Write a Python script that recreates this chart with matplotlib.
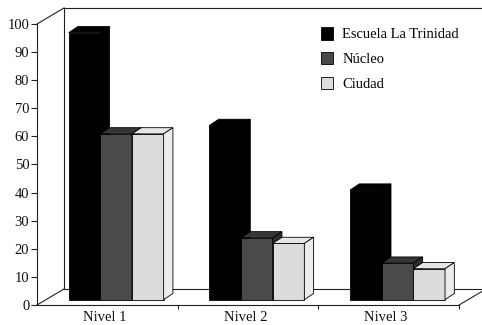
import matplotlib
matplotlib.use("Agg")
import matplotlib.pyplot as plt
from matplotlib.patches import Patch, Polygon

plt.rcParams["font.family"] = ["Liberation Serif", "DejaVu Serif"]

levels = ["Nivel 1", "Nivel 2", "Nivel 3"]
series_names = ["Escuela La Trinidad", "Núcleo", "Ciudad"]
escuela = [95, 62, 39]
nucleo = [59, 22, 13]
ciudad = [59, 20, 11]
y_ticks = list(range(0, 101, 10))

# front / top / side shades for each series
shades = [
    ("#000000", "#000000", "#000000"),
    ("#4a4a4a", "#363636", "#2c2c2c"),
    ("#dcdcdc", "#e6e6e6", "#ececec"),
]

WALL_DX, WALL_DY = 0.192, 5.7   # depth of the floor / back wall
BAR_DX, BAR_DY = 0.066, 2.2     # depth of each bar
BASE = 1.9                       # bars stand a little back on the floor
OFFSET, WIDTH = 0.225, 0.225
LINE = "#222222"

fig = plt.figure(figsize=(4.82, 3.25), dpi=100)
ax = fig.add_axes([37 / 482, 0, 445 / 482, 1])
ax.set_xlim(0, 445 / 140.7)
ax.set_ylim(-7.12, 108.54)

# floor and back wall
ax.plot([0, WALL_DX], [0, WALL_DY], color=LINE, lw=0.8, clip_on=False)
ax.plot([0, WALL_DX], [100, 100 + WALL_DY], color=LINE, lw=0.8, clip_on=False)
ax.plot([WALL_DX, WALL_DX], [WALL_DY, 100 + WALL_DY], color=LINE, lw=0.8)
ax.plot([WALL_DX, 3.3], [100 + WALL_DY] * 2, color=LINE, lw=0.8)
ax.plot([WALL_DX, 3.3], [WALL_DY] * 2, color=LINE, lw=0.8)
ax.plot([3, 3 + WALL_DX], [0, WALL_DY], color=LINE, lw=0.8)

# bars left to right so each front face hides the neighbour's side
z = 3
for i in range(len(levels)):
    for k, vals in enumerate([escuela, nucleo, ciudad]):
        front, top_c, side_c = shades[k]
        bar = ax.bar(i + OFFSET + k * WIDTH, vals[i], width=WIDTH, bottom=BASE,
                     align="edge", color=front, edgecolor="black", lw=0.6,
                     zorder=z)[0]
        x0, y0 = bar.get_x(), bar.get_y()
        w, h = bar.get_width(), bar.get_height()
        y1 = y0 + h
        ax.add_patch(Polygon([(x0, y1), (x0 + w, y1),
                              (x0 + w + BAR_DX, y1 + BAR_DY),
                              (x0 + BAR_DX, y1 + BAR_DY)],
                             closed=True, fc=top_c, ec="black", lw=0.6, zorder=z))
        ax.add_patch(Polygon([(x0 + w, y0), (x0 + w + BAR_DX, y0 + BAR_DY),
                              (x0 + w + BAR_DX, y1 + BAR_DY), (x0 + w, y1)],
                             closed=True, fc=side_c, ec="black", lw=0.6, zorder=z))
        z += 1

for s in ["top", "right"]:
    ax.spines[s].set_visible(False)
ax.spines["left"].set_bounds(0, 100)
ax.spines["left"].set_color(LINE)
ax.spines["left"].set_linewidth(0.8)
ax.spines["bottom"].set_position(("data", 0))
ax.spines["bottom"].set_bounds(0, 3)
ax.spines["bottom"].set_color(LINE)
ax.spines["bottom"].set_linewidth(0.8)

ax.set_yticks(y_ticks)
ax.tick_params(axis="y", length=4, width=0.8, pad=1.5, labelsize=10.5,
               color=LINE, labelcolor="#111111")
ax.set_xticks([1, 2, 3])
ax.set_xticklabels([])
ax.set_xticks([i + 0.48 for i in range(len(levels))], minor=True)
ax.set_xticklabels(levels, minor=True)
ax.tick_params(axis="x", which="major", length=3, width=0.8, color=LINE)
ax.tick_params(axis="x", which="minor", length=0, pad=4.5, labelsize=10.5,
               labelcolor="#111111")

handles = [Patch(fc=shades[k][0], ec="black", lw=0.6) for k in range(3)]
fig.legend(handles, series_names, loc="upper left",
           bbox_to_anchor=(321 / 482, 1 - 27 / 325), frameon=False,
           fontsize=10.5, handlelength=0.85, handleheight=0.95,
           handletextpad=0.6, labelspacing=0.72, borderpad=0,
           borderaxespad=0)

fig.savefig("out.png", dpi=100)
